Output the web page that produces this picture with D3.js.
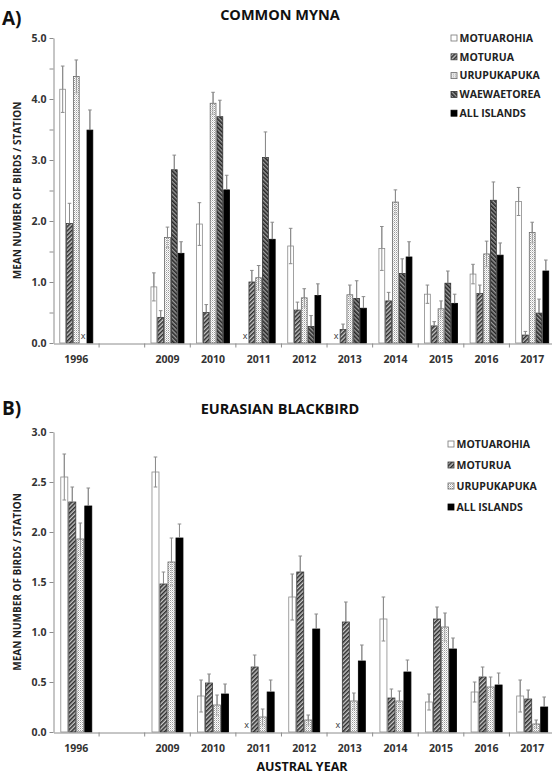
<!DOCTYPE html>
<html>
<head>
<meta charset="utf-8">
<script src="https://cdn.jsdelivr.net/npm/d3@7/dist/d3.min.js"></script>
<style>
  html, body { margin: 0; padding: 0; background: #fff; }
  svg { display: block; font-family: "Open Sans", "DejaVu Sans", sans-serif; }
</style>
</head>
<body>
<svg id="chart" width="552" height="774"></svg>
<script>
// Survey years (a blank slot separates 1996 from the later surveys)
const years = ["1996", "2009", "2010", "2011", "2012", "2013", "2014", "2015", "2016", "2017"];
const yearLabels = ["1996", "", "2009", "2010", "2011", "2012", "2013", "2014", "2015", "2016", "2017"];

// A) Common myna: mean birds per station (null = island not surveyed) and standard errors
const mynaMotuarohia   = [4.16, 0.92, 1.95, null, 1.59, null, 1.55, 0.80, 1.13, 2.32];
const mynaMotuarohiaSE = [0.38, 0.23, 0.35, null, 0.29, null, 0.36, 0.15, 0.16, 0.23];
const mynaMoturua      = [1.96, 0.42, 0.50, 1.00, 0.54, 0.22, 0.69, 0.28, 0.81, 0.13];
const mynaMoturuaSE    = [0.33, 0.11, 0.13, 0.19, 0.13, 0.09, 0.14, 0.07, 0.14, 0.06];
const mynaUrupukapuka  = [4.37, 1.73, 3.93, 1.07, 0.74, 0.79, 2.31, 0.56, 1.46, 1.81];
const mynaUrupukapukaSE= [0.27, 0.17, 0.18, 0.20, 0.15, 0.16, 0.20, 0.13, 0.21, 0.17];
const mynaWaewaetorea  = [null, 2.84, 3.71, 3.04, 0.27, 0.73, 1.14, 0.98, 2.34, 0.49];
const mynaWaewaetoreaSE= [null, 0.24, 0.27, 0.42, 0.18, 0.29, 0.24, 0.20, 0.30, 0.23];
const mynaAll          = [3.49, 1.47, 2.51, 1.70, 0.78, 0.57, 1.41, 0.65, 1.44, 1.18];
const mynaAllSE        = [0.33, 0.19, 0.24, 0.28, 0.19, 0.19, 0.25, 0.15, 0.20, 0.18];

// B) Eurasian blackbird
const birdMotuarohia   = [2.55, 2.60, 0.36, null, 1.35, null, 1.13, 0.30, 0.40, 0.36];
const birdMotuarohiaSE = [0.23, 0.15, 0.16, null, 0.23, null, 0.22, 0.08, 0.10, 0.16];
const birdMoturua      = [2.30, 1.48, 0.49, 0.65, 1.60, 1.10, 0.34, 1.13, 0.55, 0.33];
const birdMoturuaSE    = [0.15, 0.12, 0.09, 0.12, 0.16, 0.20, 0.09, 0.12, 0.10, 0.09];
const birdUrupukapuka  = [1.93, 1.70, 0.27, 0.15, 0.12, 0.31, 0.31, 1.05, 0.45, 0.08];
const birdUrupukapukaSE= [0.16, 0.24, 0.10, 0.08, 0.05, 0.08, 0.10, 0.14, 0.10, 0.04];
const birdAll          = [2.26, 1.94, 0.38, 0.40, 1.03, 0.71, 0.60, 0.83, 0.47, 0.25];
const birdAllSE        = [0.18, 0.14, 0.10, 0.12, 0.15, 0.16, 0.12, 0.11, 0.12, 0.10];

const mynaTicks = [0, 0.5, 1, 1.5, 2, 2.5, 3, 3.5, 4, 4.5, 5];
const birdTicks = [0, 0.5, 1, 1.5, 2, 2.5, 3];

const svg = d3.select("#chart");
svg.append("rect").attr("width", 552).attr("height", 774).attr("fill", "#fff");

// Fill patterns for the island series
const defs = svg.append("defs");
function stripes(id, angle, bg, ink, w) {
  const p = defs.append("pattern").attr("id", id).attr("patternUnits", "userSpaceOnUse")
    .attr("width", 3).attr("height", 3).attr("patternTransform", `rotate(${angle})`);
  p.append("rect").attr("width", 3).attr("height", 3).attr("fill", bg);
  p.append("line").attr("x1", 0.8).attr("y1", 0).attr("x2", 0.8).attr("y2", 3)
    .attr("stroke", ink).attr("stroke-width", w);
}
stripes("pMoturua", 45, "#c8c8c8", "#262626", 1.5);
stripes("pWaewae", -45, "#9a9a9a", "#1e1e1e", 1.5);
{
  const p = defs.append("pattern").attr("id", "pUrupuk").attr("patternUnits", "userSpaceOnUse")
    .attr("width", 2).attr("height", 2);
  p.append("rect").attr("width", 1).attr("height", 1).attr("fill", "#9a9a9a");
  p.append("rect").attr("x", 1).attr("y", 1).attr("width", 1).attr("height", 1).attr("fill", "#d0d0d0");
  p.append("rect").attr("x", 1).attr("y", 0).attr("width", 1).attr("height", 1).attr("fill", "rgba(255,255,255,0.5)");
}

const styles = {
  MOTUAROHIA:  { fill: "none", stroke: "#8a8a8a" },
  MOTURUA:     { fill: "url(#pMoturua)", stroke: "#3a3a3a" },
  URUPUKAPUKA: { fill: "url(#pUrupuk)", stroke: "#6a6a6a" },
  WAEWAETOREA: { fill: "url(#pWaewae)", stroke: "#333" },
  "ALL ISLANDS": { fill: "#000", stroke: "#000" }
};

const x = d3.scaleBand().domain(yearLabels.map((d, i) => d || "gap")).range([53.5, 555])
  .paddingInner(0).paddingOuter(0);

function panel(cfg) {
  const g = svg.append("g");
  const y = d3.scaleLinear().domain([0, cfg.max]).range([cfg.bottom, cfg.top]);
  const names = cfg.series.map(s => s.name);
  const xs = d3.scaleBand().domain(names).range([0, x.bandwidth()]).paddingInner(0).paddingOuter(0.85);

  // error bars (behind the bars; visible through the open bars)
  cfg.series.forEach(s => {
    years.forEach((yr, i) => {
      const v = s.values[i];
      if (v == null) return;
      const cx = x(yr) + xs(s.name) + xs.bandwidth() / 2;
      const lo = y(Math.max(0, v - s.se[i])), hi = y(v + s.se[i]);
      g.append("line").attr("x1", cx).attr("x2", cx).attr("y1", lo).attr("y2", hi)
        .attr("stroke", "#8c8c8c").attr("stroke-width", 1);
      [lo, hi].forEach(yy => g.append("line").attr("x1", cx - 1.8).attr("x2", cx + 1.8)
        .attr("y1", yy).attr("y2", yy).attr("stroke", "#8c8c8c").attr("stroke-width", 1));
    });
  });

  // bars
  cfg.series.forEach(s => {
    const st = styles[s.name];
    years.forEach((yr, i) => {
      const v = s.values[i];
      const bx = x(yr) + xs(s.name);
      if (v == null) {
        g.append("text").attr("x", bx + xs.bandwidth() / 2).attr("y", cfg.bottom - 4)
          .attr("text-anchor", "middle").attr("font-size", 9).attr("fill", "#333").text("x");
        return;
      }
      g.append("rect").attr("x", bx + 0.5).attr("y", y(v)).attr("width", xs.bandwidth() - 1)
        .attr("height", y(0) - y(v)).attr("fill", st.fill).attr("stroke", st.stroke).attr("stroke-width", 0.8);
    });
  });
  // upper error whiskers on top of bars
  cfg.series.forEach(s => {
    years.forEach((yr, i) => {
      const v = s.values[i];
      if (v == null) return;
      const cx = x(yr) + xs(s.name) + xs.bandwidth() / 2;
      g.append("line").attr("x1", cx).attr("x2", cx).attr("y1", y(v)).attr("y2", y(v + s.se[i]))
        .attr("stroke", "#8c8c8c").attr("stroke-width", 1);
    });
  });

  // y axis
  const ya = d3.axisLeft(y).tickValues(cfg.ticks).tickSize(4).tickSizeOuter(0).tickPadding(3)
    .tickFormat(d => (cfg.labelEvery && d % cfg.labelEvery !== 0) ? "" : d3.format(".1f")(d));
  const yg = g.append("g").attr("transform", "translate(53.5,0)").call(ya);
  yg.select(".domain").attr("stroke", "#8c8c8c");
  yg.selectAll(".tick line").attr("stroke", "#8c8c8c");
  yg.selectAll("text").attr("font-size", 10.5).attr("font-weight", "bold").attr("fill", "#333")
    .attr("font-family", "Open Sans, sans-serif");

  // x axis
  const xa = d3.axisBottom(x).tickSize(0).tickPadding(12).tickFormat(d => d === "gap" ? "" : d);
  const xg = g.append("g").attr("transform", `translate(0,${cfg.bottom + 0.5})`).call(xa);
  xg.select(".domain").attr("stroke", "#8c8c8c");
  xg.selectAll("text").attr("font-size", 10.5).attr("font-weight", "bold").attr("fill", "#333")
    .attr("font-family", "Open Sans, sans-serif");
  xg.selectAll(".bound").data(x.domain().slice(1)).enter().append("line")
    .attr("x1", d => x(d)).attr("x2", d => x(d)).attr("y1", 0).attr("y2", 4).attr("stroke", "#8c8c8c");

  // y axis title
  g.append("text").attr("transform", `translate(21,${(cfg.top + cfg.bottom) / 2}) rotate(-90)`)
    .attr("text-anchor", "middle").attr("font-size", 10).attr("font-weight", "bold").attr("fill", "#222")
    .text("MEAN NUMBER OF BIRDS / STATION");

  // panel letter and title
  g.append("text").attr("x", 2).attr("y", cfg.letterY).attr("font-size", 19).attr("font-weight", "bold")
    .attr("fill", "#111").text(cfg.letter);
  g.append("text").attr("x", 280).attr("y", cfg.titleY).attr("text-anchor", "middle").attr("font-size", 14.5)
    .attr("font-weight", "bold").attr("fill", "#111").text(cfg.title);

  // legend
  const lg = g.append("g").attr("transform", `translate(${cfg.legX},${cfg.legY})`);
  cfg.series.forEach((s, i) => {
    const st = styles[s.name];
    const row = lg.append("g").attr("transform", `translate(0,${i * cfg.legStep})`);
    row.append("rect").attr("x", 0).attr("y", -3).attr("width", 6).attr("height", 6)
      .attr("fill", st.fill === "none" ? "#fff" : st.fill).attr("stroke", st.stroke === "#8a8a8a" ? "#777" : st.stroke)
      .attr("stroke-width", 0.8);
    row.append("text").attr("x", 8.5).attr("y", 3.8).attr("font-size", 10.5).attr("font-weight", "bold")
      .attr("fill", "#222").text(s.name);
  });
}

panel({
  letter: "A)", letterY: 25, title: "COMMON MYNA", titleY: 20,
  top: 38, bottom: 343, max: 5, ticks: mynaTicks, labelEvery: 1,
  legX: 451, legY: 38, legStep: 18.8,
  series: [
    { name: "MOTUAROHIA", values: mynaMotuarohia, se: mynaMotuarohiaSE },
    { name: "MOTURUA", values: mynaMoturua, se: mynaMoturuaSE },
    { name: "URUPUKAPUKA", values: mynaUrupukapuka, se: mynaUrupukapukaSE },
    { name: "WAEWAETOREA", values: mynaWaewaetorea, se: mynaWaewaetoreaSE },
    { name: "ALL ISLANDS", values: mynaAll, se: mynaAllSE }
  ]
});

panel({
  letter: "B)", letterY: 415, title: "EURASIAN BLACKBIRD", titleY: 414,
  top: 432, bottom: 732, max: 3, ticks: birdTicks, labelEvery: null,
  legX: 448, legY: 444, legStep: 21,
  series: [
    { name: "MOTUAROHIA", values: birdMotuarohia, se: birdMotuarohiaSE },
    { name: "MOTURUA", values: birdMoturua, se: birdMoturuaSE },
    { name: "URUPUKAPUKA", values: birdUrupukapuka, se: birdUrupukapukaSE },
    { name: "ALL ISLANDS", values: birdAll, se: birdAllSE }
  ]
});

svg.append("text").attr("x", 302).attr("y", 771).attr("text-anchor", "middle").attr("font-size", 12.5)
  .attr("font-weight", "bold").attr("fill", "#111").text("AUSTRAL YEAR");
</script>
</body>
</html>
